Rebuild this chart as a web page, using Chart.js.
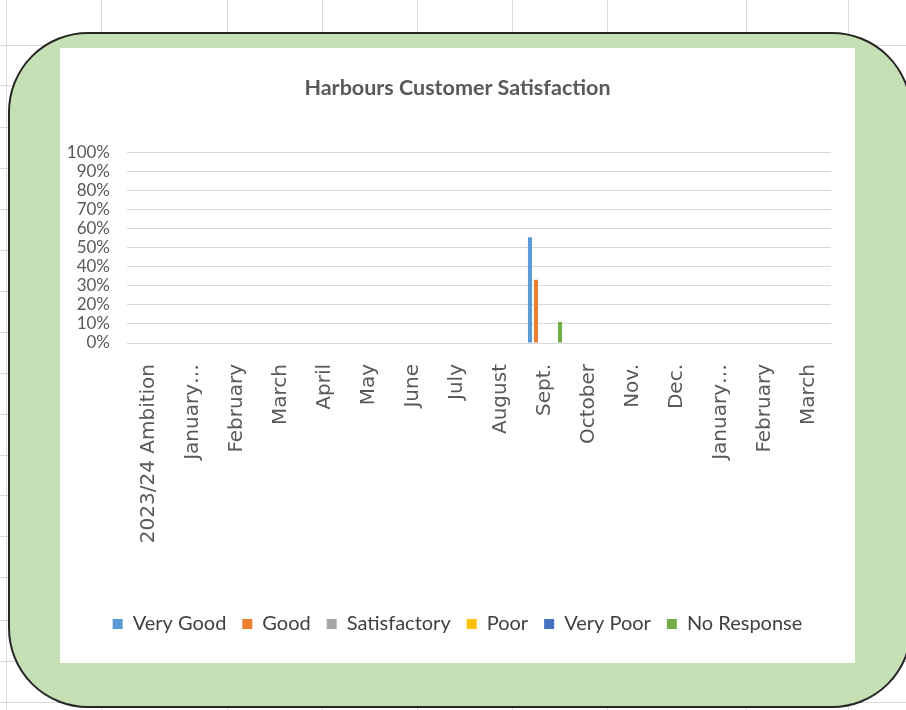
<!DOCTYPE html>
<html>
<head>
<meta charset="utf-8">
<script src="https://cdn.jsdelivr.net/npm/chart.js@4.4.1/dist/chart.umd.min.js"></script>
<style>
  html, body { margin: 0; padding: 0; background: #ffffff; }
  body { width: 906px; height: 710px; position: relative; overflow: hidden; }
  .vl { position: absolute; top: 0; width: 1px; height: 710px; background: #d9d9d9; }
  .hl { position: absolute; left: 0; height: 1px; width: 906px; background: #d9d9d9; }
  #frame { position: absolute; left: 8px; top: 32px; width: 900px; height: 672px;
           background: #c5e0b4; border: 2px solid #262626; border-radius: 80px; }
  #panel { position: absolute; left: 60px; top: 48px; width: 795px; height: 615px; background: #ffffff; }
  #c { display: block; }
</style>
</head>
<body>
<div id="bg"></div>
<div id="frame"></div>
<div id="panel"><canvas id="c" width="795" height="615"></canvas></div>
<script>
// ---- data ----
const categories = ["2023/24 Ambition", "January\u2026", "February", "March", "April", "May", "June", "July", "August", "Sept.", "October", "Nov.", "Dec.", "January\u2026", "February", "March"];
const veryGood     = [null, null, null, null, null, null, null, null, null, 55.6, null, null, null, null, null, null];
const good         = [null, null, null, null, null, null, null, null, null, 33.3, null, null, null, null, null, null];
const satisfactory = [null, null, null, null, null, null, null, null, null, 0, null, null, null, null, null, null];
const poor         = [null, null, null, null, null, null, null, null, null, 0, null, null, null, null, null, null];
const veryPoor     = [null, null, null, null, null, null, null, null, null, 0, null, null, null, null, null, null];
const noResponse   = [null, null, null, null, null, null, null, null, null, 11.1, null, null, null, null, null, null];
const yTicks = [0, 10, 20, 30, 40, 50, 60, 70, 80, 90, 100];

// ---- spreadsheet background grid (decoration) ----
const bg = document.getElementById('bg');
[6, 101, 227, 322, 417, 512, 607, 746, 848].forEach(x => {
  const d = document.createElement('div'); d.className = 'vl'; d.style.left = x + 'px'; bg.appendChild(d);
});
[45, 85, 127, 168, 209, 250, 291, 332, 373, 414, 455, 495, 536, 577, 620, 661, 702].forEach(y => {
  const d = document.createElement('div'); d.className = 'hl'; d.style.top = y + 'px'; bg.appendChild(d);
});

const mk = (label, data, color) => ({
  label, data, backgroundColor: color, borderWidth: 0,
  categoryPercentage: 0.82, barPercentage: 0.67
});

new Chart(document.getElementById('c'), {
  type: 'bar',
  data: {
    labels: categories,
    datasets: [
      mk('Very Good', veryGood, '#5b9bd5'),
      mk('Good', good, '#ed7d31'),
      mk('Satisfactory', satisfactory, '#a5a5a5'),
      mk('Poor', poor, '#ffc000'),
      mk('Very Poor', veryPoor, '#4472c4'),
      mk('No Response', noResponse, '#70ad47')
    ]
  },
  options: {
    responsive: false,
    animation: false,
    devicePixelRatio: 1,
    layout: { padding: { left: 0, right: 0, top: 0, bottom: 19 } },
    plugins: {
      tooltip: { enabled: false },
      title: {
        display: true,
        text: 'Harbours Customer Satisfaction',
        color: '#595959',
        font: { family: 'Lato', size: 21.5, weight: 'bold', lineHeight: 1.2 },
        padding: { top: 27, bottom: 52 }
      },
      legend: {
        position: 'bottom',
        labels: {
          color: '#404040',
          font: { family: 'Lato', size: 20 },
          boxWidth: 10, boxHeight: 10, padding: 16
        }
      }
    },
    scales: {
      x: {
        grid: { display: false, drawTicks: false },
        border: { display: true, color: '#d9d9d9' },
        ticks: {
          color: '#595959', autoSkip: false, minRotation: 90, maxRotation: 90,
          padding: 21,
          font: { family: 'DejaVu Sans', size: 20 }
        },
        afterFit: s => { s.height = 255; }
      },
      y: {
        min: 0, max: 100,
        grid: { color: '#d9d9d9', drawTicks: false },
        border: { display: false },
        afterBuildTicks: s => { s.ticks = yTicks.map(v => ({ value: v })); },
        ticks: {
          color: '#595959', padding: 17, autoSkip: false,
          font: { family: 'Lato', size: 17, lineHeight: 1 },
          callback: v => v + '%'
        },
        afterFit: s => { s.width = 67; }
      },
      yRight: {
        position: 'right',
        display: true,
        grid: { display: false, drawTicks: false },
        border: { display: false },
        ticks: { display: false },
        afterFit: s => { s.width = 24; }
      }
    }
  }
});
</script>
</body>
</html>
